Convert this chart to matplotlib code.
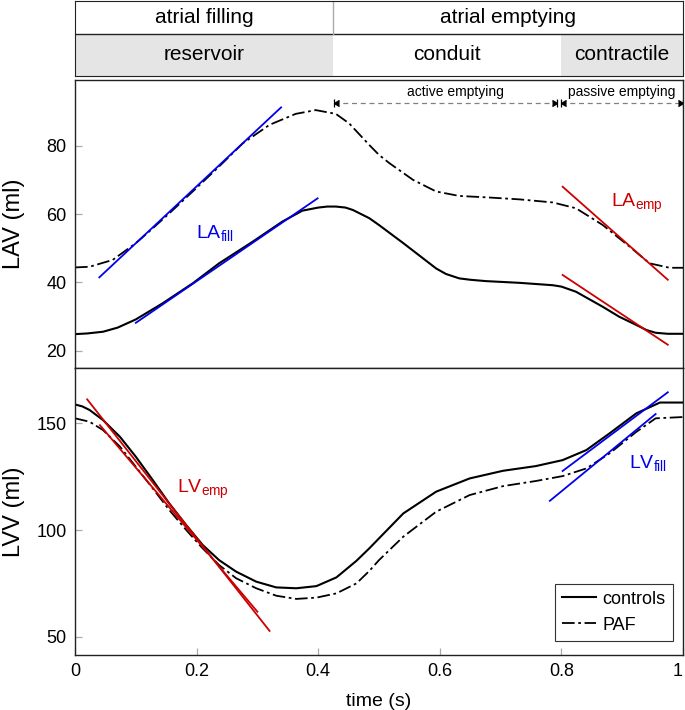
import numpy as np
import matplotlib.pyplot as plt

plt.rcParams['font.family'] = ['Liberation Sans', 'DejaVu Sans']
plt.rcParams['mathtext.default'] = 'regular'
plt.rcParams['lines.solid_joinstyle'] = 'round'
plt.rcParams['lines.dash_joinstyle'] = 'round'

# phases (s)
phase_edges = [0.0, 0.425, 0.8, 1.0]
row1_labels = ['atrial filling', 'atrial emptying']
row2_labels = ['reservoir', 'conduit', 'contractile']

# LA volume (ml)
t_lav_ctl = [0, 0.02, 0.046, 0.07, 0.1, 0.144, 0.194, 0.237, 0.292, 0.341, 0.374, 0.40,
             0.415, 0.429, 0.445, 0.457, 0.484, 0.5, 0.54, 0.594, 0.61, 0.632, 0.65, 0.676,
             0.731, 0.786, 0.80, 0.824, 0.845, 0.868, 0.895, 0.923, 0.94, 0.955, 0.975, 1.0]
lav_ctl = [24.9, 25.1, 25.6, 26.8, 29.2, 33.9, 39.8, 45.6, 51.9, 57.8, 61.0, 61.9,
           62.2, 62.2, 61.9, 61.2, 58.8, 56.8, 51.5, 44.1, 42.5, 41.2, 40.8, 40.4,
           39.9, 39.2, 38.8, 37.3, 35.2, 32.9, 30.0, 27.6, 26.1, 25.3, 25.0, 25.0]

t_lav_paf = [0, 0.024, 0.062, 0.1, 0.122, 0.155, 0.199, 0.237, 0.276, 0.32, 0.363, 0.396,
             0.429, 0.451, 0.484, 0.5, 0.517, 0.556, 0.594, 0.632, 0.676, 0.731, 0.786,
             0.824, 0.868, 0.912, 0.945, 0.978, 1.0]
lav_paf = [44.4, 44.6, 46.6, 51.5, 54.9, 60.2, 67.5, 73.9, 80.7, 86.1, 89.3, 90.4,
           89.3, 86.5, 80.2, 77.3, 74.9, 70.0, 66.6, 65.3, 64.9, 64.3, 63.4,
           61.7, 56.8, 50.5, 45.6, 44.3, 44.3]

# LV volume (ml)
t_lvv_ctl = [0, 0.012, 0.024, 0.046, 0.074, 0.1, 0.128, 0.155, 0.183, 0.21, 0.237, 0.265,
             0.298, 0.331, 0.364, 0.397, 0.43, 0.463, 0.484, 0.5, 0.54, 0.594, 0.649,
             0.704, 0.758, 0.802, 0.841, 0.879, 0.923, 0.962, 1.0]
lvv_ctl = [158.9, 158.0, 156.3, 151.6, 143.7, 134.4, 123.4, 112.5, 102.3, 93.0, 85.9, 80.5,
           75.8, 73.1, 72.7, 73.7, 77.8, 85.6, 91.4, 96.1, 107.8, 118.0, 124.2,
           127.8, 130.0, 132.8, 137.5, 145.3, 154.7, 159.8, 159.8]

t_lvv_paf = [0, 0.024, 0.046, 0.074, 0.1, 0.128, 0.155, 0.183, 0.21, 0.237, 0.265, 0.298,
             0.331, 0.364, 0.397, 0.43, 0.463, 0.484, 0.5, 0.54, 0.594, 0.649, 0.704,
             0.758, 0.802, 0.841, 0.879, 0.923, 0.955, 1.0]
lvv_paf = [152.4, 150.8, 146.9, 139.1, 129.7, 119.5, 109.4, 100.0, 91.4, 83.6, 77.4, 72.7,
           69.2, 67.7, 68.3, 70.3, 75.0, 80.8, 85.9, 96.9, 108.6, 116.4, 120.6,
           123.0, 125.3, 128.9, 135.9, 146.0, 152.4, 153.0]

# tangent lines: [t0, t1], [v0, v1]
la_fill = [([0.04, 0.339], [41.5, 91.2]), ([0.1, 0.399], [28.2, 64.6])]
la_emp = [([0.802, 0.975], [68.0, 40.8]), ([0.802, 0.975], [42.2, 21.8])]
lv_emp = [([0.02, 0.32], [161.3, 52.7]), ([0.041, 0.30], [149.2, 61.7])]
lv_fill = [([0.802, 0.975], [127.7, 164.6]), ([0.781, 0.955], [113.7, 154.4])]

# emptying intervals
emp_spans = [(0.4265, 0.792), (0.799, 1.0)]
emp_labels = ['active emptying', 'passive emptying']
emp_label_t = [0.626, 0.8995]

blue = '#0000ee'
red = '#cc0000'
dashdot = (0, (7, 2, 1.5, 2))

fig = plt.figure(figsize=(6.85, 7.10), dpi=100)
L, W = 75 / 685, 608 / 685
axh = fig.add_axes([L, 1 - 76 / 710, W, 75 / 710])
ax1 = fig.add_axes([L, 1 - 368 / 710, W, 288 / 710])
ax2 = fig.add_axes([L, 1 - 655 / 710, W, 287 / 710])

# header table
split = 0.56
axh.set_xlim(0, 1)
axh.set_ylim(0, 1)
axh.axvspan(phase_edges[0], phase_edges[1], 0, split, color='#e5e5e5', lw=0)
axh.axvspan(phase_edges[2], phase_edges[3], 0, split, color='#e5e5e5', lw=0)
axh.axhline(split, color='#222222', lw=1.0)
axh.plot([phase_edges[1], phase_edges[1]], [split, 1], color='#aaaaaa', lw=1.0)
axh.text((phase_edges[0] + phase_edges[1]) / 2, (1 + split) / 2, row1_labels[0],
         ha='center', va='center', fontsize=15)
axh.text((phase_edges[1] + phase_edges[3]) / 2, (1 + split) / 2, row1_labels[1],
         ha='center', va='center', fontsize=15)
for i, lab in enumerate(row2_labels):
    axh.text((phase_edges[i] + phase_edges[i + 1]) / 2, split / 2, lab,
             ha='center', va='center', fontsize=15)
axh.set_xticks([])
axh.set_yticks([])
for s in axh.spines.values():
    s.set_color('#222222')

# LA panel
ax1.plot(t_lav_ctl, lav_ctl, color='black', lw=1.5)
ax1.plot(t_lav_paf, lav_paf, color='black', lw=1.3, ls=dashdot)
for tt, vv in la_fill:
    ax1.plot(tt, vv, color=blue, lw=1.3)
for tt, vv in la_emp:
    ax1.plot(tt, vv, color=red, lw=1.3)
ax1.text(0.23, 54.5, 'LA$_{fill}$', color=blue, fontsize=14, ha='center', va='center')
ax1.text(0.924, 63.0, 'LA$_{emp}$', color=red, fontsize=14, ha='center', va='center')

y_arr = 92.4
for (a, b), lab, tl in zip(emp_spans, emp_labels, emp_label_t):
    ax1.plot([a, b], [y_arr, y_arr], color='grey', lw=0.9, ls=(0, (4, 3)))
    ax1.plot([a], [y_arr], marker=4, color='black', ms=5)
    ax1.plot([b], [y_arr], marker=5, color='black', ms=5)
    ax1.plot([a, b], [y_arr, y_arr], ls='none', marker='|', color='black', ms=6, mew=0.9)
    ax1.text(tl, 95.6, lab, fontsize=10, ha='center', va='center')

ax1.set_xlim(0, 1)
ax1.set_ylim(15.0, 99.2)
ax1.set_yticks([20, 40, 60, 80])
ax1.set_xticks([])
ax1.set_ylabel('LAV (ml)', fontsize=17)
ax1.yaxis.set_label_coords(-0.083, 0.5)

# LV panel
ax2.plot(t_lvv_ctl, lvv_ctl, color='black', lw=1.5, label='controls')
ax2.plot(t_lvv_paf, lvv_paf, color='black', lw=1.3, ls=dashdot, label='PAF')
for tt, vv in lv_emp:
    ax2.plot(tt, vv, color=red, lw=1.3)
for tt, vv in lv_fill:
    ax2.plot(tt, vv, color=blue, lw=1.3)
ax2.text(0.211, 119.2, 'LV$_{emp}$', color=red, fontsize=14, ha='center', va='center')
ax2.text(0.943, 131.4, 'LV$_{fill}$', color=blue, fontsize=14, ha='center', va='center')

ax2.set_xlim(0, 1)
ax2.set_ylim(41.4, 176.0)
ax2.set_yticks([50, 100, 150])
ax2.set_xticks([0, 0.2, 0.4, 0.6, 0.8, 1.0])
ax2.set_xticklabels(['0', '0.2', '0.4', '0.6', '0.8', '1'])
ax2.get_xticklabels()[-1].set_horizontalalignment('right')
ax2.set_xlabel('time (s)', fontsize=14, labelpad=9)
ax2.set_ylabel('LVV (ml)', fontsize=17)
ax2.yaxis.set_label_coords(-0.083, 0.5)

leg = ax2.legend(loc='lower right', bbox_to_anchor=(1 - 10 / 608, 14 / 287),
                 borderaxespad=0, fontsize=13, fancybox=False, framealpha=1,
                 edgecolor='#333333', handlelength=1.9, handletextpad=0.35)
leg.get_frame().set_linewidth(0.8)

for ax in (ax1, ax2):
    ax.tick_params(direction='in', length=5, width=0.9, color='#aaaaaa',
                   labelsize=13, pad=6)
    for s in ax.spines.values():
        s.set_color('#222222')
        s.set_linewidth(1.0)

fig.savefig('out.png', dpi=100)
